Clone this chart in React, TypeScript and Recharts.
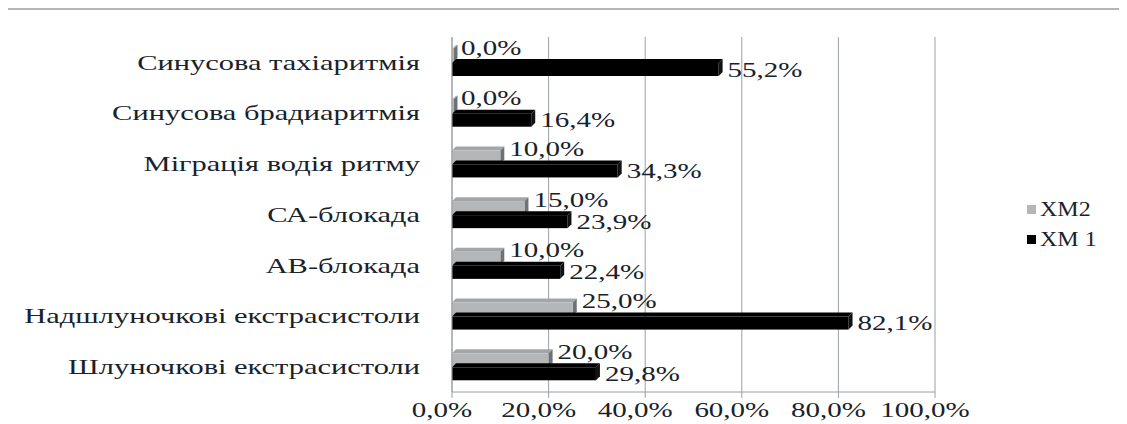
import React from "react";
import { BarChart, Bar, XAxis, YAxis, CartesianGrid, Legend, LabelList } from "recharts";

const categories = [
  "Синусова тахіаритмія",
  "Синусова брадиаритмія",
  "Міграція водія ритму",
  "СА-блокада",
  "АВ-блокада",
  "Надшлуночкові екстрасистоли",
  "Шлуночкові екстрасистоли",
];
const xm2 = [0, 0, 10, 15, 10, 25, 20];
const xm1 = [55.2, 16.4, 34.3, 23.9, 22.4, 82.1, 29.8];
const xTicks = [0, 20, 40, 60, 80, 100];

const data = categories.map((name, i) => ({ name, xm2: xm2[i], xm1: xm1[i] }));

const FONT = "Liberation Serif";
const INK = "#18222a";
const STRETCH = 1.45; // the source picture is stretched sideways
const pct = (v: number) => v.toFixed(1).replace(".", ",") + "%";

// simple Excel-like 3D bar: front face + darker side + top
const make3D = (front: string, side: string, top: string) => (props: any) => {
  const { x, y, width, height } = props;
  const d = 4;
  const w = Math.max(width, 1.5);
  return (
    <g>
      <polygon points={`${x},${y} ${x + d},${y - d} ${x + w + d},${y - d} ${x + w},${y}`} fill={top} />
      <polygon points={`${x + w},${y} ${x + w + d},${y - d} ${x + w + d},${y + height - d} ${x + w},${y + height}`} fill={side} />
      <rect x={x} y={y} width={w} height={height} fill={front} />
    </g>
  );
};

const valueLabel = (dy: number) => (props: any) => {
  const { x, y, width, height, value } = props;
  return (
    <text
      transform={`translate(${x + width + 9},${y + height / 2 + dy}) scale(${STRETCH},1)`}
      fontSize={20}
      fontFamily={FONT}
      fill={INK}
    >
      {pct(value)}
    </text>
  );
};

const CategoryTick = (props: any) => {
  const { x, y, payload } = props;
  return (
    <text
      transform={`translate(${x},${y}) scale(${STRETCH},1)`}
      textAnchor="end"
      dy="0.35em"
      fontSize={21}
      fontFamily={FONT}
      fill={INK}
    >
      {payload.value}
    </text>
  );
};

const PctTick = (props: any) => {
  const { x, y, payload } = props;
  return (
    <text
      transform={`translate(${x - 10},${y}) scale(${STRETCH},1)`}
      textAnchor="middle"
      dy="0.71em"
      fontSize={20}
      fontFamily={FONT}
      fill={INK}
    >
      {pct(payload.value)}
    </text>
  );
};

const legendContent = (props: any) => {
  const order = ["xm2", "xm1"];
  const items = [...(props.payload || [])].sort(
    (a: any, b: any) => order.indexOf(a.dataKey) - order.indexOf(b.dataKey)
  );
  return (
    <div style={{ fontFamily: FONT, fontSize: 20, color: INK, position: "relative", top: 8 }}>
      {items.map((it: any) => (
        <div key={it.dataKey} style={{ display: "flex", alignItems: "center", height: 30 }}>
          <span style={{ width: 9, height: 9, background: it.color, marginRight: 4, display: "inline-block" }} />
          <span style={{ display: "inline-block", transform: "scaleX(1.2)", transformOrigin: "left center" }}>
            {it.value}
          </span>
        </div>
      ))}
    </div>
  );
};

export default function App() {
  return (
    <div style={{ borderTop: "2px solid #b5b5b5", width: 1111 }}>
      <BarChart
        width={1111}
        height={412}
        data={data}
        layout="vertical"
        margin={{ top: 27, right: 0, bottom: 0, left: 0 }}
        barSize={13}
        barGap={1}
      >
        <CartesianGrid horizontal={false} stroke="#9aa0a4" />
        <XAxis
          type="number"
          domain={[0, 100]}
          ticks={xTicks}
          tick={<PctTick />}
          axisLine={{ stroke: "#9aa0a4" }}
          tickLine={{ stroke: "#9aa0a4" }}
          tickMargin={5}
          height={30}
        />
        <YAxis
          type="category"
          dataKey="name"
          width={444}
          tick={<CategoryTick />}
          axisLine={{ stroke: "#9aa0a4" }}
          tickLine={false}
          tickMargin={26}
        />
        <Legend
          layout="vertical"
          align="right"
          verticalAlign="middle"
          content={legendContent}
          wrapperStyle={{ width: 184, paddingLeft: 92, boxSizing: "border-box" }}
        />
        <Bar dataKey="xm2" name="XM2" fill="#b4b6b8" shape={make3D("#b4b6b8", "#6f7275", "#a3a6a9")} isAnimationActive={false}>
          <LabelList dataKey="xm2" content={valueLabel(-1)} />
        </Bar>
        <Bar dataKey="xm1" name="XM 1" fill="#000000" shape={make3D("#000000", "#111111", "#000000")} isAnimationActive={false}>
          <LabelList dataKey="xm1" content={valueLabel(7)} />
        </Bar>
      </BarChart>
    </div>
  );
}
